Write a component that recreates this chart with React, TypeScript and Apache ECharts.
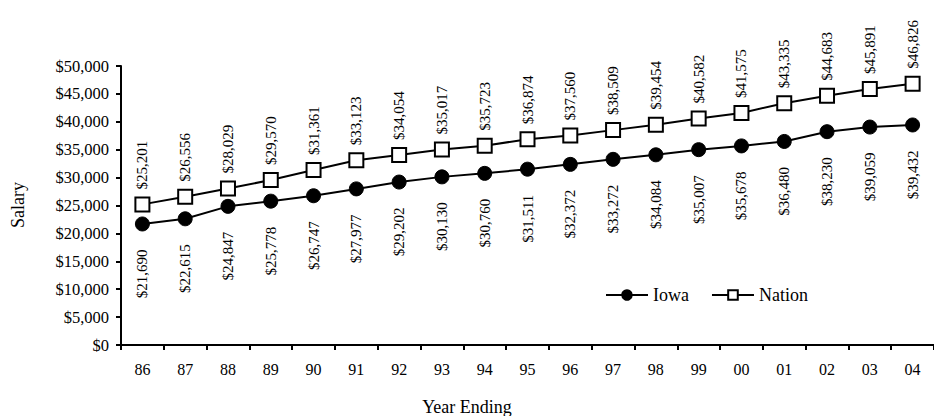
import React, { useEffect, useRef } from "react";
import * as echarts from "echarts";

const categories = ["86", "87", "88", "89", "90", "91", "92", "93", "94", "95", "96", "97", "98", "99", "00", "01", "02", "03", "04"];
const iowaValues = [21690, 22615, 24847, 25778, 26747, 27977, 29202, 30130, 30760, 31511, 32372, 33272, 34084, 35007, 35678, 36480, 38230, 39059, 39432];
const nationValues = [25201, 26556, 28029, 29570, 31361, 33123, 34054, 35017, 35723, 36874, 37560, 38509, 39454, 40582, 41575, 43335, 44683, 45891, 46826];
const yMin = 0;
const yMax = 50000;
const yInterval = 5000;

const FONT = "'Liberation Serif', 'Times New Roman', serif";

function fmt(v: number): string {
  return "$" + v.toLocaleString("en-US");
}

export default function App() {
  const ref = useRef<HTMLDivElement>(null);

  useEffect(() => {
    if (!ref.current) return;
    const chart = echarts.init(ref.current, undefined, { renderer: "svg" });
    chart.setOption({
      animation: false,
      backgroundColor: "#ffffff",
      textStyle: { fontFamily: FONT, color: "#000" },
      grid: { left: 121, right: -7, top: 66, bottom: 71, containLabel: false },
      legend: {
        left: 600,
        top: 281,
        itemWidth: 42,
        itemHeight: 12,
        itemGap: 22,
        textStyle: { fontFamily: FONT, fontSize: 18, color: "#000" },
        data: ["Iowa", "Nation"],
      },
      xAxis: {
        type: "category",
        data: categories,
        boundaryGap: true,
        axisLine: { lineStyle: { color: "#000", width: 2 } },
        axisTick: { show: true, length: 5, lineStyle: { color: "#000", width: 2 } },
        axisLabel: { color: "#000", fontFamily: FONT, fontSize: 16, margin: 16 },
        splitLine: { show: false },
      },
      yAxis: {
        type: "value",
        min: yMin,
        max: yMax,
        interval: yInterval,
        axisLine: { show: true, lineStyle: { color: "#000", width: 2 } },
        axisTick: { show: true, length: 5, lineStyle: { color: "#000", width: 2 } },
        axisLabel: { color: "#000", fontFamily: FONT, fontSize: 16.5, margin: 12, formatter: (v: number) => fmt(v) },
        splitLine: { show: false },
      },
      graphic: [
        {
          type: "text",
          x: 18,
          y: 205,
          rotation: Math.PI / 2,
          style: { text: "Salary", fontFamily: FONT, fontSize: 18, fill: "#000", align: "center", verticalAlign: "middle" },
        },
        {
          type: "text",
          x: 467,
          y: 407,
          style: { text: "Year Ending", fontFamily: FONT, fontSize: 18, fill: "#000", align: "center", verticalAlign: "middle" },
        },
      ],
      series: [
        {
          name: "Iowa",
          type: "line",
          data: iowaValues,
          symbol: "circle",
          symbolSize: 14,
          lineStyle: { color: "#000", width: 2 },
          itemStyle: { color: "#000", borderColor: "#000", borderWidth: 1 },
          label: {
            show: true,
            position: "bottom",
            distance: 18,
            rotate: 90,
            align: "right",
            verticalAlign: "middle",
            fontFamily: FONT,
            fontSize: 15,
            color: "#000",
            formatter: (p: any) => fmt(p.value),
          },
        },
        {
          name: "Nation",
          type: "line",
          data: nationValues,
          symbol: "rect",
          symbolSize: 14,
          lineStyle: { color: "#000", width: 2 },
          itemStyle: { color: "#fff", borderColor: "#000", borderWidth: 2 },
          label: {
            show: true,
            position: "top",
            distance: 7,
            rotate: 90,
            align: "left",
            verticalAlign: "middle",
            fontFamily: FONT,
            fontSize: 15,
            color: "#000",
            formatter: (p: any) => fmt(p.value),
          },
        },
      ],
    });
    return () => chart.dispose();
  }, []);

  return <div ref={ref} style={{ position: "fixed", left: 0, top: 0, width: 934, height: 416 }} />;
}
